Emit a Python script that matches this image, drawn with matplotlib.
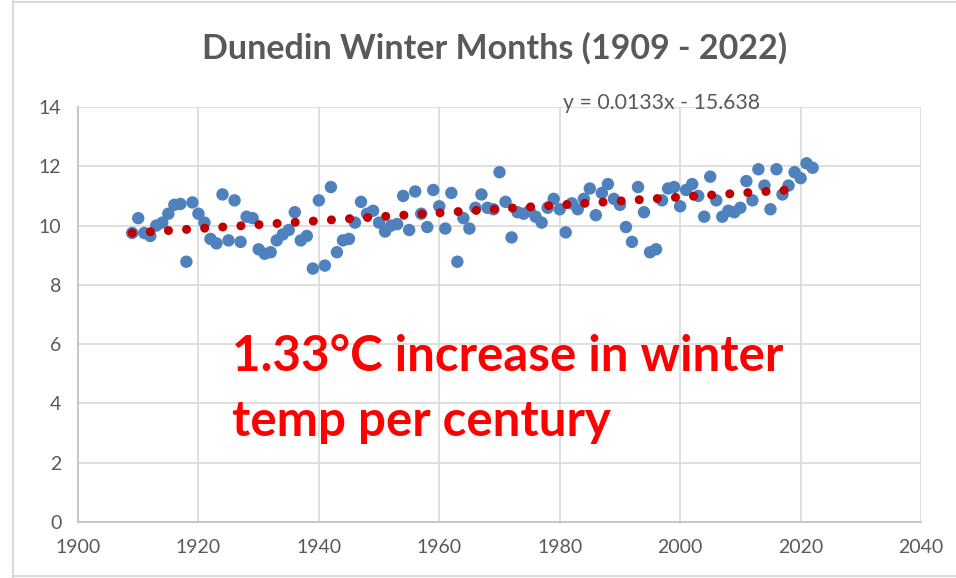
import numpy as np
import matplotlib
matplotlib.use("Agg")
import matplotlib.pyplot as plt
from matplotlib.lines import Line2D

years = list(range(1909, 2023))
temps = [
    9.75, 10.25, 9.75, 9.65, 10.0, 10.1, 10.4, 10.7, 10.73, 8.78,
    10.78, 10.4, 10.1, 9.55, 9.4, 11.05, 9.5, 10.85, 9.45, 10.3,
    10.25, 9.2, 9.05, 9.1, 9.5, 9.7, 9.85, 10.45, 9.5, 9.65,
    8.55, 10.85, 8.65, 11.3, 9.1, 9.5, 9.55, 10.1, 10.8, 10.4,
    10.5, 10.1, 9.8, 10.0, 10.05, 11.0, 9.85, 11.15, 10.4, 9.95,
    11.2, 10.65, 9.9, 11.1, 8.78, 10.25, 9.9, 10.6, 11.05, 10.6,
    10.55, 11.8, 10.8, 9.6, 10.45, 10.4, 10.5, 10.3, 10.1, 10.6,
    10.9, 10.55, 9.77, 10.75, 10.55, 10.9, 11.25, 10.35, 11.1, 11.4,
    10.9, 10.7, 9.95, 9.45, 11.3, 10.45, 9.1, 9.2, 10.85, 11.25,
    11.3, 10.65, 11.2, 11.4, 11.0, 10.3, 11.65, 10.85, 10.3, 10.5,
    10.45, 10.6, 11.5, 10.85, 11.9, 11.35, 10.55, 11.9, 11.05, 11.35,
    11.8, 11.6, 12.1, 11.95,
]
trend_slope = 0.0133
trend_intercept = -15.638
trend_years = [1909, 2019]
x_ticks = [1900, 1920, 1940, 1960, 1980, 2000, 2020, 2040]
y_ticks = [0, 2, 4, 6, 8, 10, 12, 14]

title = "Dunedin Winter Months (1909 - 2022)"
equation = "y = 0.0133x - 15.638"
note_lines = ["1.33°C increase in winter", "temp per century"]

plt.rcParams["font.family"] = ["Lato", "DejaVu Sans"]

fig = plt.figure(figsize=(9.56, 5.78), dpi=100)
ax = fig.add_axes([78 / 956, 1 - 522 / 578, (921 - 78) / 956, (522 - 107) / 578])

ax.scatter(years, temps, s=80, color="#4F81BD", edgecolors="none", zorder=3)

tx = np.array(trend_years, dtype=float)
ax.plot(tx, trend_slope * tx + trend_intercept, color="#C00000", lw=6.5,
        dashes=(0.01, 2.0), dash_capstyle="round", zorder=4)

ax.set_xlim(1900, 2040)
ax.set_ylim(0, 14)
ax.set_xticks(x_ticks)
ax.set_yticks(y_ticks)
ax.grid(color="#D9D9D9", lw=1.2, zorder=0)
ax.set_axisbelow(True)
for side in ["top", "right"]:
    ax.spines[side].set_visible(False)
for side in ["left", "bottom"]:
    ax.spines[side].set_color("#BFBFBF")
    ax.spines[side].set_linewidth(1.2)
ax.tick_params(length=0, labelsize=14, colors="#595959", pad=12)

fig.text(495 / 956, 1 - 48 / 578, title, ha="center", va="center",
         fontsize=24.5, fontweight="bold", color="#595959")
ax.text(1980.5, 13.93, equation, ha="left", va="baseline", fontsize=15.3,
        color="#595959")
for line, base in zip(note_lines, [5.09, 2.90]):
    ax.text(1925.6, base, line, ha="left", va="baseline", fontsize=35.5,
            fontweight="bold", color="#FF0000")

# outer frame of the picture
for xs, ys in [([13 / 956, 13 / 956], [0, 1]),
               ([13 / 956, 1], [1 - 2 / 578, 1 - 2 / 578]),
               ([13 / 956, 1], [1 - 576 / 578, 1 - 576 / 578])]:
    fig.add_artist(Line2D(xs, ys, color="#D9D9D9", lw=1.5))

fig.savefig("out.png", dpi=100)
